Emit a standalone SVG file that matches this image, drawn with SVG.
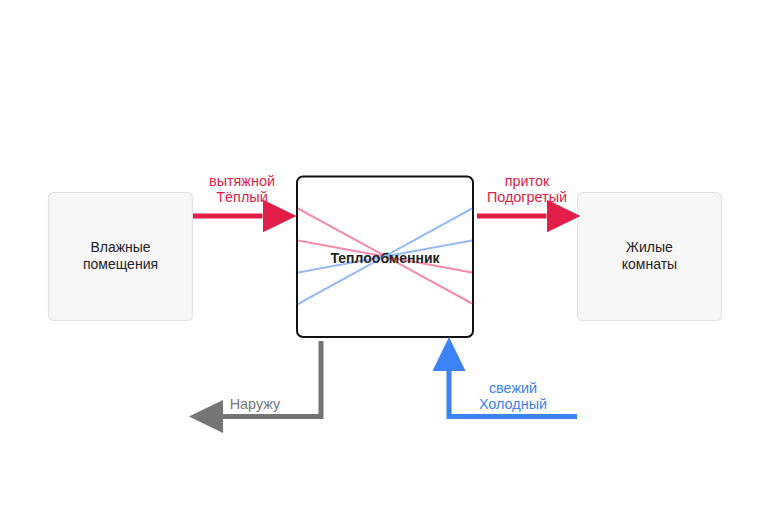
<svg xmlns="http://www.w3.org/2000/svg" width="770" height="513" viewBox="0 0 770 513">
<style>
.node{fill:#f7f7f7;stroke:#e3e3e3;stroke-width:1.2}
.t{font-family:"Liberation Sans",Arial,sans-serif;font-size:14px;fill:#222;text-anchor:middle}
.lbl{font-family:"Liberation Sans",Arial,sans-serif;font-size:14.4px;text-anchor:middle}
.flow{fill:none;stroke-width:5}
</style>
<defs>
<marker id="ar" markerUnits="userSpaceOnUse" viewBox="0 0 34 33" refX="0" refY="16.5" markerWidth="34" markerHeight="33" orient="auto"><path d="M0,0 L34,16.5 L0,33 Z" fill="#e11d48"/></marker>
<marker id="ag" markerUnits="userSpaceOnUse" viewBox="0 0 34 33" refX="0" refY="16.5" markerWidth="34" markerHeight="33" orient="auto"><path d="M0,0 L34,16.5 L0,33 Z" fill="#757575"/></marker>
<marker id="ab" markerUnits="userSpaceOnUse" viewBox="0 0 34 33" refX="0" refY="16.5" markerWidth="34" markerHeight="33" orient="auto"><path d="M0,0 L34,16.5 L0,33 Z" fill="#3b82f6"/></marker>
</defs>
<rect width="770" height="513" fill="#ffffff"/>
<g id="wet">
<rect class="node" x="48.5" y="192.5" width="144" height="128" rx="5"/>
<text class="t" x="120.5" y="252">Влажные</text>
<text class="t" x="120.5" y="269">помещения</text>
</g>
<g id="living">
<rect class="node" x="577.5" y="192.5" width="144" height="128" rx="5"/>
<text class="t" x="649.5" y="252">Жилые</text>
<text class="t" x="649.5" y="269">комнаты</text>
</g>
<g id="exchanger">
<rect x="297" y="176.5" width="176" height="160.5" rx="6" fill="#ffffff" stroke="#111" stroke-width="2"/>
<g stroke-width="2" fill="none">
<line x1="298" y1="208.5" x2="472" y2="303.5" stroke="#f58cab"/>
<line x1="298" y1="240.5" x2="472" y2="272.5" stroke="#f58cab"/>
<line x1="298" y1="304" x2="472" y2="208.5" stroke="#97bbf8"/>
<line x1="298" y1="272.5" x2="472" y2="240.5" stroke="#97bbf8"/>
</g>
<text class="t" x="385" y="263" font-weight="bold" font-size="14.4" fill="#111">Теплообменник</text>
</g>
<g id="connectors">
<path class="flow" stroke="#e11d48" d="M193,216 H262.5" marker-end="url(#ar)"/>
<path class="flow" stroke="#e11d48" d="M477,216 H546.5" marker-end="url(#ar)"/>
<path class="flow" stroke="#757575" d="M321,341 V416.5 H223" marker-end="url(#ag)"/>
<path class="flow" stroke="#3b82f6" d="M577,416.5 H449 V371" marker-end="url(#ab)"/>
<text class="lbl" fill="#e11d48" x="242" y="186">вытяжной</text>
<text class="lbl" fill="#e11d48" x="242" y="202">Тёплый</text>
<text class="lbl" fill="#e11d48" x="527" y="186">приток</text>
<text class="lbl" fill="#e11d48" x="527" y="202">Подогретый</text>
<text class="lbl" fill="#777777" x="255" y="409">Наружу</text>
<text class="lbl" fill="#3b82f6" x="513" y="393">свежий</text>
<text class="lbl" fill="#3b82f6" x="513" y="409">Холодный</text>
</g>
</svg>
